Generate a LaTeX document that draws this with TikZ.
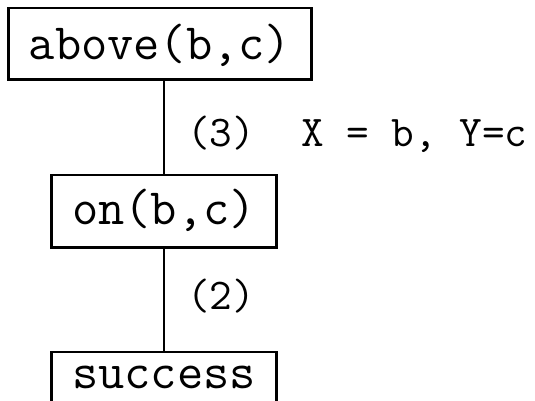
\documentclass[tikz,border=0pt]{standalone}
\usepackage{tikz}

\begin{document}
\begin{tikzpicture}[
      x=0.02cm, y=-0.02cm,
      goal/.style={draw, line width=1.7pt, inner sep=0pt, minimum width=4.5cm,
        font=\fontsize{29}{30}\selectfont\ttfamily},
      lbl/.style={anchor=base west, inner sep=0pt, font=\fontsize{25}{26}\selectfont\ttfamily}
    ]
    \useasboundingbox (0,0) rectangle (535,401);
    \clip (0,0) rectangle (535,401);
    \node[goal, minimum width=6.08cm, text height=1.04cm, text depth=0.4cm] (above) at (160,44) {above(b,c)};
    \node[goal, text height=1.0cm, text depth=0.46cm] (on) at (164,211.5) {on(b,c)};
    \node[goal, text height=0.74cm, text depth=1.0cm] (success) at (164,395.5) {success};
    \draw[line width=1.1pt] (above.south -| on.north) -- (on.north);
    \draw[line width=1.1pt] (on.south) -- (success.north);
    \node[lbl] (step3) at (187,147) {(3)};
    \node[lbl] (bind) at (301,147) {X = b, Y=c};
    \node[lbl] (step2) at (187,310) {(2)};
  \end{tikzpicture}
\end{document}
